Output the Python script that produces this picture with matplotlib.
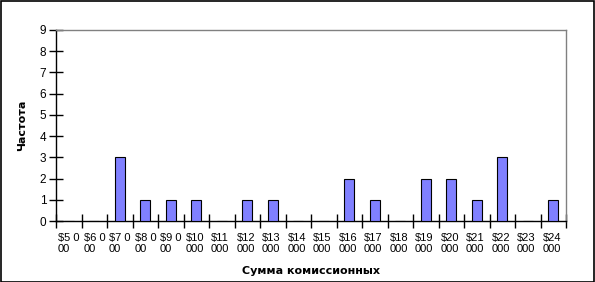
import matplotlib
matplotlib.use("Agg")
import matplotlib.pyplot as plt
from matplotlib.patches import Rectangle

categories = ["$5 0\n00", "$6 0\n00", "$7 0\n00", "$8 0\n00", "$9 0\n00",
              "$10\n000", "$11\n000", "$12\n000", "$13\n000", "$14\n000",
              "$15\n000", "$16\n000", "$17\n000", "$18\n000", "$19\n000",
              "$20\n000", "$21\n000", "$22\n000", "$23\n000", "$24\n000"]
values = [0, 0, 3, 1, 1, 1, 0, 1, 1, 0, 0, 2, 1, 0, 2, 2, 1, 3, 0, 1]
yticks = list(range(0, 10))

W, H = 595, 282
fig = plt.figure(figsize=(W/100, H/100), dpi=100)
fig.patch.set_facecolor("white")
fig.patches.append(Rectangle((0.5/W, 0.5/H), 1 - 1.5/W, 1 - 1.5/H, transform=fig.transFigure,
                             fill=False, edgecolor="black", linewidth=1.2))

x0, x1 = 56, 566
ytop, ybot = 30, 221
ax = fig.add_axes([x0/W, 1 - ybot/H, (x1-x0)/W, (ybot-ytop)/H])
n = len(categories)
pos = [i + 0.5 for i in range(n)]
ax.bar(pos, values, width=0.4, color="#8080ff", edgecolor="black", linewidth=0.8, zorder=3)
ax.set_xlim(0, n)
ax.set_ylim(0, 9)
ax.set_yticks(yticks)
ax.set_yticklabels([str(v) for v in yticks], fontfamily="Liberation Sans", fontsize=8.5)
ax.set_xticks(range(n + 1))
ax.set_xticklabels([])
ax.set_xticks([i + 0.08 for i in range(n)], minor=True)
ax.set_xticklabels(categories, minor=True, fontsize=8, fontfamily="Liberation Sans", linespacing=1.0)
for t in ax.get_xticklabels(minor=True):
    t.set_horizontalalignment("left")
    t.set_multialignment("left")
ax.tick_params(axis="x", which="minor", length=0, pad=9)
ax.tick_params(axis="x", which="major", direction="inout", length=10, width=1, color="black")
ax.tick_params(axis="y", direction="inout", length=10, width=1, pad=2)
for s in ["left", "bottom"]:
    ax.spines[s].set_color("black")
    ax.spines[s].set_linewidth(1)
for s in ["top", "right"]:
    ax.spines[s].set_color("#808080")
    ax.spines[s].set_linewidth(1)
ax.set_ylabel("Частота", fontsize=8, fontweight="bold", labelpad=9)
ax.set_xlabel("Сумма комиссионных", fontsize=8, fontweight="bold", labelpad=9)
fig.savefig("out.png", dpi=100)
